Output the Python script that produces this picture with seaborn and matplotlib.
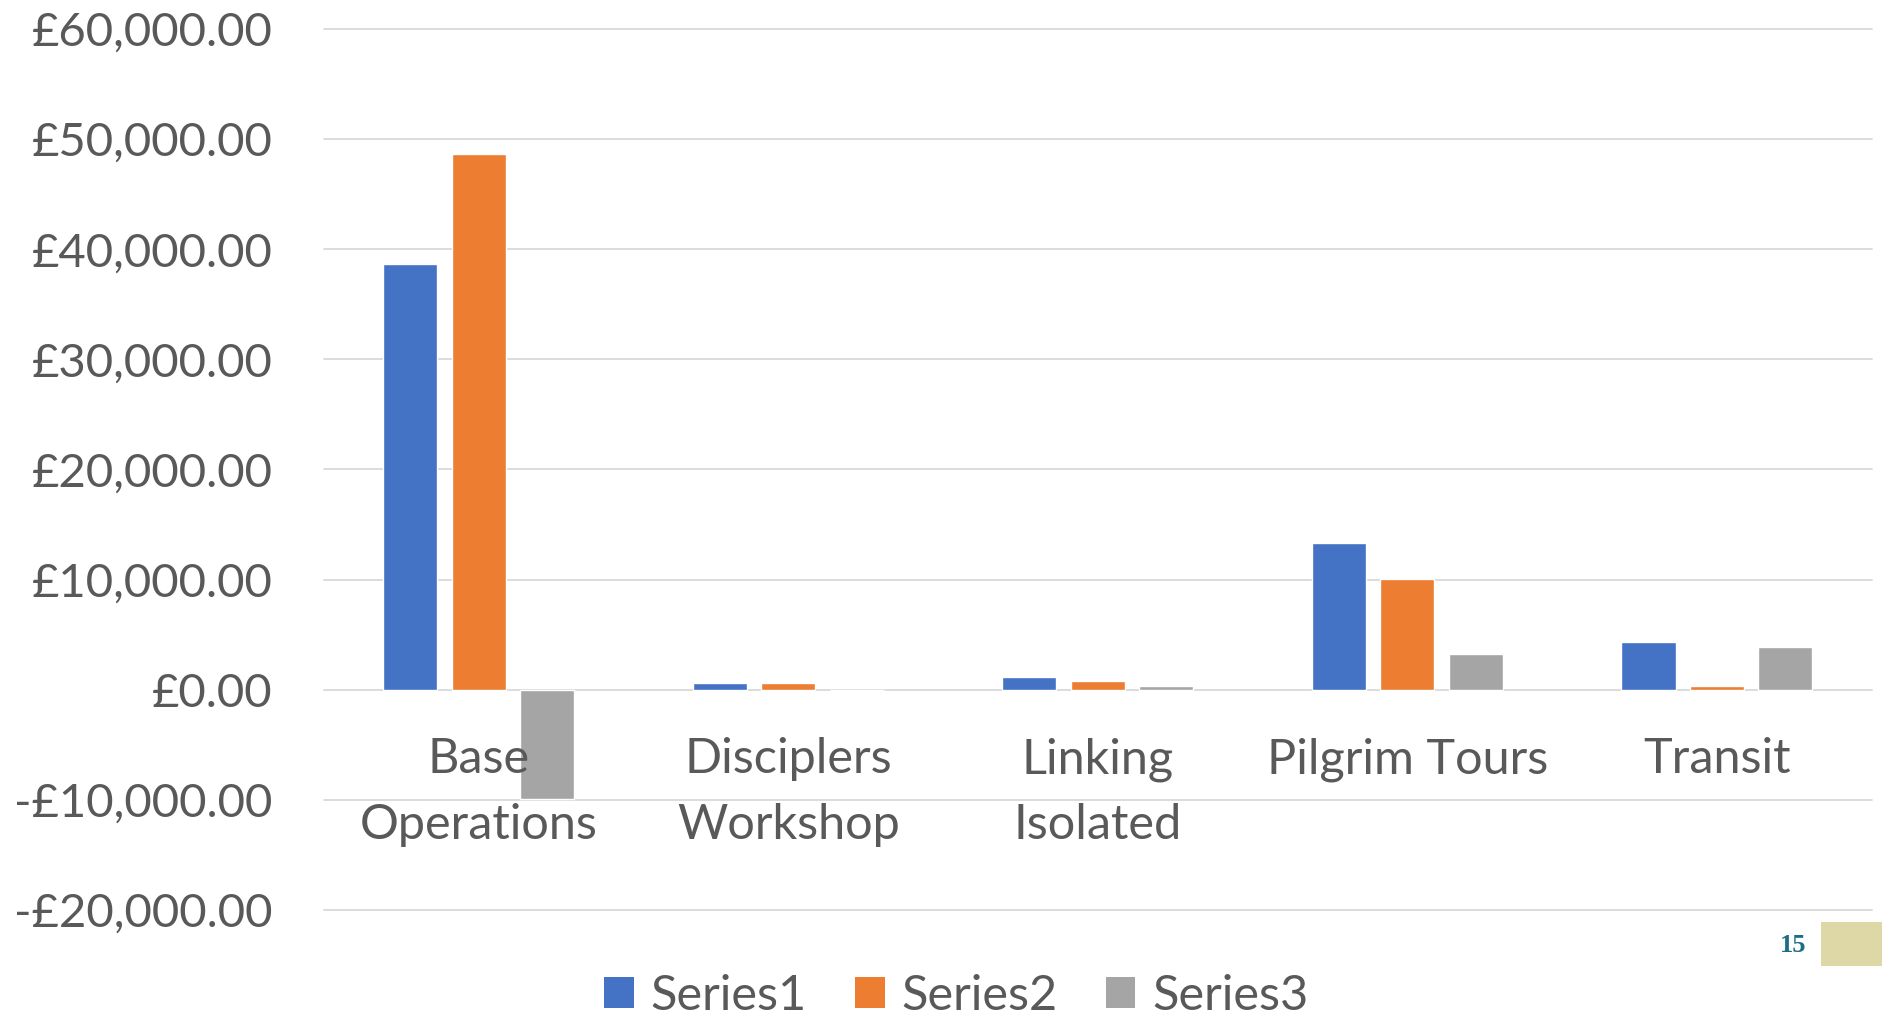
import pandas as pd
import matplotlib
matplotlib.use("Agg")
import matplotlib.pyplot as plt
import seaborn as sns
from matplotlib.ticker import FuncFormatter, MultipleLocator
from matplotlib.patches import Patch, Rectangle

# data
categories = ["Base\nOperations", "Disciplers\nWorkshop", "Linking\nIsolated", "Pilgrim Tours", "Transit"]
series_names = ["Series1", "Series2", "Series3"]
series1 = [38680, 620, 1120, 13340, 4350]
series2 = [48660, 650, 810, 10070, 380]
series3 = [-9950, 0, 300, 3270, 3920]
colors = ["#4472C4", "#ED7D31", "#A5A5A5"]

df = pd.DataFrame({
    "category": categories * 3,
    "series": [s for s in series_names for _ in categories],
    "value": series1 + series2 + series3,
})

sns.set_style("white")
plt.rcParams["font.family"] = ["Lato", "DejaVu Sans"]
text_col = "#595959"
fs_y = 34
fs_x = 35

fig = plt.figure(figsize=(18.83, 10.16), dpi=100)
ax = fig.add_axes([0.172, 0.1043, 0.822, 0.8672])

sns.barplot(data=df, x="category", y="value", hue="series", palette=colors,
            order=categories, hue_order=series_names,
            width=0.663, gap=0.21, saturation=1, ax=ax, legend=False)

ax.set_ylim(-20000, 60000)
ax.set_xlim(-0.5, len(categories) - 0.5)
ax.yaxis.set_major_locator(MultipleLocator(10000))
ax.yaxis.set_major_formatter(FuncFormatter(
    lambda v, p: f"-£{abs(v):,.2f}" if v < 0 else f"£{v:,.2f}"))
ax.grid(axis="y", color="#D9D9D9", linewidth=1.3)
ax.grid(axis="x", visible=False)
for gl in ax.yaxis.get_gridlines():
    gl.set_clip_on(False)
ax.set_axisbelow(True)
ax.xaxis.set_zorder(5)
for s in ax.spines.values():
    s.set_visible(False)

ax.set_xlabel("")
ax.set_ylabel("")
ax.tick_params(axis="y", length=0, pad=37, labelsize=fs_y, labelcolor=text_col)
ax.tick_params(axis="x", length=0, pad=-124.5, labelsize=fs_x, labelcolor=text_col)
for lab in ax.get_xticklabels():
    lab.set_linespacing(1.6)

handles = [Patch(facecolor=c, edgecolor="none") for c in colors]
fig.legend(handles, series_names, loc="center", bbox_to_anchor=(0.508, 0.02),
           ncol=3, frameon=False, fontsize=fs_x, labelcolor=text_col,
           handlelength=0.6, handleheight=0.6, handletextpad=0.35,
           columnspacing=1.0)

# slide decorations (page number box)
fig.patches.append(Rectangle((1821 / 1883, 1 - 966 / 1016), 62 / 1883, 44 / 1016,
                             transform=fig.transFigure, facecolor="#DDD8A5",
                             edgecolor="none"))
fig.text(1793 / 1883, 1 - 945 / 1016, "15", color="#1B6F80", fontsize=19,
         fontweight="bold", family=["Liberation Serif", "DejaVu Serif"],
         ha="center", va="center")

fig.savefig("out.png", dpi=100)
